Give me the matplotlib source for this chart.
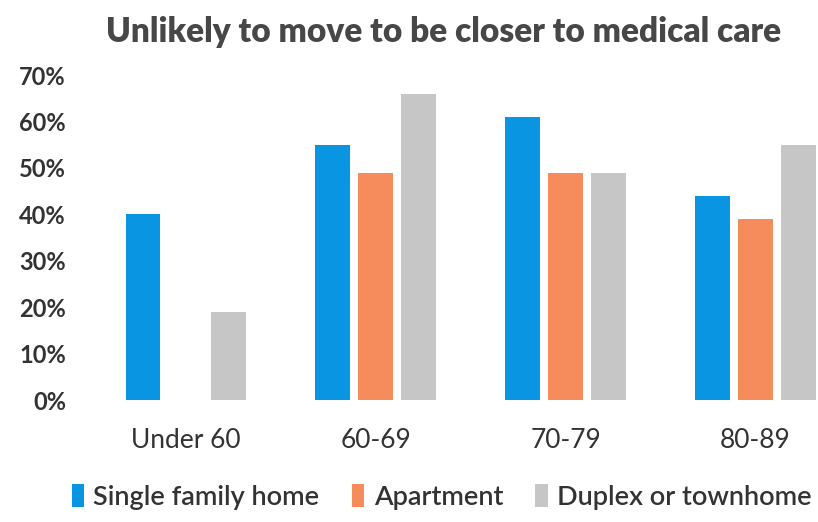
import matplotlib
matplotlib.use("Agg")
import matplotlib.pyplot as plt
import numpy as np
from matplotlib.patches import Patch

categories = ["Under 60", "60-69", "70-79", "80-89"]
series_names = ["Single family home", "Apartment", "Duplex or townhome"]
single_family = [40, 55, 61, 44]
apartment = [0, 49, 49, 39]
duplex = [19, 66, 49, 55]
yticks = [0, 10, 20, 30, 40, 50, 60, 70]
ytick_labels = ["0%", "10%", "20%", "30%", "40%", "50%", "60%", "70%"]
title = "Unlikely to move to be closer to medical care"

colors = ["#0A95E3", "#F68C5B", "#C6C6C6"]
plt.rcParams['font.family'] = ['Lato', 'DejaVu Sans']

fig = plt.figure(figsize=(8.18, 5.22), dpi=100)
ax = fig.add_axes([91/818, 122/522, (818-91)/818, 325/522])

x = np.arange(len(categories))
pitch = 0.226
width = 0.184
for i, (vals, c) in enumerate(zip([single_family, apartment, duplex], colors)):
    ax.bar(x + (i - 1) * pitch, vals, width=width, color=c, linewidth=0)

ax.set_xlim(-0.5, 3.33)
ax.set_ylim(0, 70)
ax.set_yticks(yticks)
ax.set_yticklabels(ytick_labels, fontsize=17, fontweight='bold', color='#333333')
ax.set_xticks(x)
ax.set_xticklabels(categories, fontsize=19, color='#333333')
ax.tick_params(axis='both', length=0)
ax.tick_params(axis='y', pad=18)
ax.tick_params(axis='x', pad=20)
for s in ax.spines.values():
    s.set_visible(False)

fig.suptitle(title, x=0.542, y=0.97, fontsize=24, fontweight='heavy', color='#474747')

handles = [Patch(facecolor=c, edgecolor='none') for c in colors]
leg = fig.legend(handles, series_names, loc='center', bbox_to_anchor=(0.54, 0.048),
                 ncol=3, frameon=False, fontsize=19.5, handlelength=0.45, handleheight=0.9,
                 handletextpad=0.35, columnspacing=1.2)
for t in leg.get_texts():
    t.set_fontweight('semibold')
    t.set_color('#333333')

fig.savefig("out.png", dpi=100)
